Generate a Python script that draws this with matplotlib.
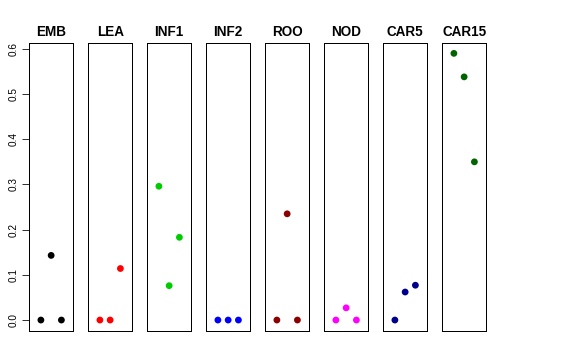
import numpy as np
import matplotlib
matplotlib.use("Agg")
import matplotlib.pyplot as plt

plt.rcParams['font.family'] = ['Liberation Sans', 'DejaVu Sans']

# one panel per sample, three values each
samples = ["EMB", "LEA", "INF1", "INF2", "ROO", "NOD", "CAR5", "CAR15"]
colors = ["black", "#FF0000", "#00CD00", "#0000FF", "#8B0000", "#FF00FF", "#00008B", "#006400"]

emb = [0.0, 0.143, 0.0]
lea = [0.0, 0.0, 0.114]
inf1 = [0.296, 0.076, 0.183]
inf2 = [0.0, 0.0, 0.0]
roo = [0.0, 0.235, 0.0]
nod = [0.0, 0.027, 0.0]
car5 = [0.0, 0.062, 0.077]
car15 = [0.590, 0.538, 0.350]
values = [emb, lea, inf1, inf2, roo, nod, car5, car15]

W, H = 576, 360
fig = plt.figure(figsize=(W / 72, H / 72), dpi=72)

left0 = 29.0
step = 59.0
pw = 44.3
top = 42.7
bottom = 330.7

ymin, ymax = 0.0, 0.59
pad = (ymax - ymin) * 0.04

for i, (name, col, vals) in enumerate(zip(samples, colors, values)):
    x0 = left0 + i * step
    ax = fig.add_axes([x0 / W, 1 - bottom / H, pw / W, (bottom - top) / H])
    xs = np.arange(1, len(vals) + 1)
    ax.scatter(xs, vals, s=46, color=col, edgecolors="none", zorder=3)
    ax.set_xlim(-0.16, 4.16)
    ax.set_ylim(ymin - pad, ymax + pad)
    ax.set_xticks([])
    for sp in ax.spines.values():
        sp.set_linewidth(1.0)
        sp.set_color("black")
    ax.set_title(name, fontsize=13.5, fontweight="bold", pad=7)
    if i == 0:
        ax.set_yticks(np.arange(0, 0.61, 0.1))
        ax.set_yticklabels(["0.0", "0.1", "0.2", "0.3", "0.4", "0.5", "0.6"], fontsize=10)
        ax.tick_params(axis="y", length=7, width=0.8, pad=3, labelrotation=90)
        for lab in ax.get_yticklabels():
            lab.set_verticalalignment("center")
    else:
        ax.set_yticks([])

fig.savefig("out.png", dpi=72)
